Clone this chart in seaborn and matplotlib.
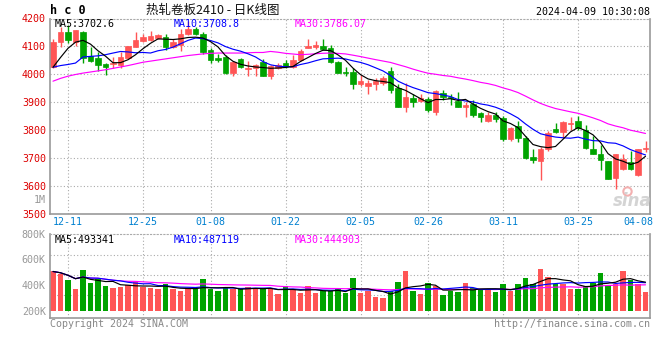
import numpy as np
import pandas as pd
import matplotlib
matplotlib.use("Agg")
import matplotlib.pyplot as plt
import seaborn as sns

# daily K data for hc0 (HRC 2410), 2023-12-07 .. 2024-04-09
opens = [4027, 4117, 4152, 4116, 4152, 4065, 4059, 4037, 4035, 4033,
         4057, 4099, 4120, 4122, 4131, 4134, 4096, 4105, 4146, 4164,
         4146, 4087, 4057, 4063, 4006, 4053, 4017, 4021, 4045, 3992,
         4021, 4041, 4027, 4051, 4093, 4099, 4101, 4093, 4045, 4009,
         4009, 3965, 3959, 3965, 3968, 4012, 3950, 3884, 3914, 3905,
         3912, 3866, 3932, 3920, 3905, 3881, 3894, 3860, 3831, 3855,
         3843, 3768, 3815, 3771, 3702, 3688, 3730, 3805, 3793, 3821,
         3833, 3801, 3733, 3714, 3690, 3628, 3658, 3684, 3640, 3731]
highs = [4125, 4170, 4176, 4160, 4155, 4099, 4081, 4041, 4063, 4081,
         4101, 4150, 4144, 4155, 4144, 4143, 4125, 4164, 4192, 4170,
         4150, 4093, 4072, 4069, 4047, 4057, 4049, 4037, 4053, 4033,
         4039, 4051, 4069, 4089, 4128, 4119, 4126, 4105, 4049, 4025,
         4023, 3998, 3980, 3986, 3994, 4025, 3964, 3968, 3930, 3930,
         3917, 3944, 3943, 3928, 3936, 3900, 3908, 3866, 3863, 3864,
         3849, 3812, 3833, 3777, 3730, 3738, 3795, 3825, 3833, 3846,
         3849, 3819, 3777, 3747, 3690, 3712, 3712, 3724, 3733, 3762]
lows = [4022, 4099, 4111, 4100, 4041, 4045, 4012, 3998, 4021, 4024,
        4053, 4099, 4117, 4119, 4128, 4087, 4093, 4084, 4140, 4140,
        4071, 4041, 4045, 4000, 3992, 4024, 3992, 3994, 3992, 3982,
        4019, 4021, 4024, 4049, 4093, 4089, 4087, 4041, 4003, 3992,
        3946, 3956, 3930, 3944, 3962, 3932, 3881, 3863, 3881, 3900,
        3866, 3855, 3908, 3890, 3881, 3845, 3845, 3827, 3828, 3827,
        3762, 3762, 3756, 3697, 3682, 3620, 3726, 3789, 3771, 3801,
        3801, 3733, 3712, 3655, 3623, 3587, 3655, 3655, 3634, 3721]
closes = [4117, 4152, 4122, 4158, 4059, 4049, 4033, 4025, 4040, 4061,
          4101, 4122, 4134, 4137, 4140, 4096, 4116, 4146, 4161, 4146,
          4081, 4051, 4051, 4004, 4045, 4027, 4021, 4033, 3994, 4031,
          4033, 4030, 4051, 4084, 4101, 4105, 4090, 4045, 4006, 4003,
          3965, 3974, 3968, 3974, 3988, 3944, 3884, 3920, 3900, 3914,
          3872, 3940, 3920, 3914, 3884, 3890, 3855, 3845, 3855, 3840,
          3768, 3807, 3771, 3700, 3692, 3730, 3789, 3792, 3829, 3825,
          3807, 3736, 3715, 3692, 3625, 3712, 3694, 3658, 3730, 3733]
volumes_k = [506, 486, 437, 372, 514, 416, 445, 393, 378, 385,
             398, 421, 385, 378, 372, 408, 372, 352, 367, 367,
             445, 367, 352, 378, 367, 378, 385, 367, 367, 380,
             329, 390, 367, 339, 390, 339, 352, 352, 367, 342,
             455, 339, 354, 308, 300, 354, 424, 509, 354, 329,
             416, 390, 321, 354, 347, 416, 378, 360, 360, 347,
             406, 354, 406, 455, 406, 522, 463, 406, 406, 372,
             372, 390, 419, 496, 398, 411, 506, 442, 411, 347]

# moving averages at the left edge (their windows start before the chart)
ma5_head = [4025, 4060, 4093, 4115]
ma10_head = [4025, 4031, 4035, 4040, 4062, 4064, 4066, 4070, 4076]
ma30_head = [3975, 3985, 3993, 3999, 4004, 4008, 4012, 4016, 4021, 4026,
             4031, 4037, 4043, 4047, 4051, 4055, 4059, 4063, 4067, 4070,
             4073, 4075, 4076, 4076, 4076, 4076, 4077, 4078, 4078]

tick_pos = [2, 12, 21, 31, 41, 50, 60, 70, 78]
tick_labels = ["12-11", "12-25", "01-08", "01-22", "02-05", "02-26", "03-11", "03-25", "04-08"]
price_ticks = [3500, 3600, 3700, 3800, 3900, 4000, 4100, 4200]
vol_ticks = [200000, 400000, 600000, 800000]
vol_tick_labels = ["200K", "400K", "600K", "800K"]

UP = "#ff5555"
DOWN = "#00a300"
GRID = "#aaaaaa"
EDGE = "#999999"
MONO = "DejaVu Sans Mono"

sns.set_theme(style="white")
plt.rcParams["font.family"] = [MONO, "Noto Sans CJK SC"]

df = pd.DataFrame({"open": opens, "high": highs, "low": lows,
                   "close": closes, "vol": np.array(volumes_k) * 1000})
df["idx"] = np.arange(len(df))
df["color"] = np.where(df["close"] >= df["open"], UP, DOWN)


def moving(s, n, head):
    m = s.rolling(n).mean()
    m.iloc[:n - 1] = head
    return m


df["ma5"] = moving(df["close"], 5, ma5_head)
df["ma10"] = moving(df["close"], 10, ma10_head)
df["ma30"] = moving(df["close"], 30, ma30_head)
df["vma5"] = df["vol"].rolling(5, min_periods=1).mean()
df["vma10"] = df["vol"].rolling(10, min_periods=1).mean()
df["vma30"] = df["vol"].rolling(30, min_periods=1).mean()

W, H = 660, 360


def px(x, y):
    return x / W, 1 - y / H


fig = plt.figure(figsize=(6.6, 3.6), dpi=100)
ax = fig.add_axes([50 / W, 1 - 213.5 / H, 600 / W, 195 / H])
axv = fig.add_axes([50 / W, 1 - 318 / H, 600 / W, 84.5 / H])

# price panel
ax.vlines(df["idx"], df["low"], df["high"], colors=df["color"], lw=1)
body = np.maximum((df["close"] - df["open"]).abs(), 2.5)
ax.bar(df["idx"], body, bottom=np.minimum(df["open"], df["close"]), width=0.74,
       color=df["color"], edgecolor=df["color"], lw=0.5)
sns.lineplot(data=df, x="idx", y="ma30", ax=ax, color="#ff00ff", lw=0.85)
sns.lineplot(data=df, x="idx", y="ma10", ax=ax, color="#0000ff", lw=0.85)
sns.lineplot(data=df, x="idx", y="ma5", ax=ax, color="black", lw=0.85)
ax.set_xlim(-0.4, 79.6)
ax.set_ylim(3500, 4200)
ax.set_yticks(price_ticks)
ax.set_yticklabels([str(p) for p in price_ticks], color="#dd0000", fontsize=7.2)
ax.set_xticks(tick_pos)
ax.set_xticklabels(tick_labels, color="#0080d0", fontsize=7.2)
ax.tick_params(axis="both", length=0, pad=3)
ax.tick_params(axis="x", pad=2.5)
for p in price_ticks[1:-1]:
    ax.axhline(p, color=GRID, lw=0.8, ls=(0, (1, 2)), zorder=0)
for t in tick_pos[:-1]:
    ax.axvline(t, color=GRID, lw=0.8, ls=(0, (1, 2)), zorder=0)
ax.set_xlabel("")
ax.set_ylabel("")

# volume panel
axv.bar(df["idx"], df["vol"] - 200000, bottom=200000, width=0.74, color=df["color"], lw=0)
sns.lineplot(data=df, x="idx", y="vma30", ax=axv, color="#ff00ff", lw=0.85)
sns.lineplot(data=df, x="idx", y="vma10", ax=axv, color="#0000ff", lw=0.85)
sns.lineplot(data=df, x="idx", y="vma5", ax=axv, color="black", lw=0.85)
axv.set_xlim(-0.4, 79.6)
axv.set_ylim(145800, 800000)
axv.set_yticks(vol_ticks)
axv.set_yticklabels(vol_tick_labels, color="#999999", fontsize=7.2)
axv.set_xticks([])
axv.tick_params(axis="both", length=0, pad=3)
for v in [325000, 480000, 630000]:
    axv.axhline(v, color=GRID, lw=0.8, ls=(0, (1, 2)), zorder=0)
for t in tick_pos[:-1]:
    axv.axvline(t, color=GRID, lw=0.8, ls=(0, (1, 2)), zorder=0)
axv.set_xlabel("")
axv.set_ylabel("")

for a in (ax, axv):
    for side in ("left", "right", "bottom"):
        a.spines[side].set_color(EDGE)
        a.spines[side].set_linewidth(1.2)
    a.spines["top"].set_color(GRID)
    a.spines["top"].set_linestyle((0, (1, 2)))
    a.spines["top"].set_linewidth(0.8)

# texts
fig.text(*px(50, 11), "h c 0", fontsize=8.5, weight="bold", color="black", va="center", family=MONO)
fig.text(*px(213, 10), "热轧卷板2410 - 日K线图", fontsize=9, color="#111111",
         ha="center", va="center", family=["Noto Sans CJK SC", MONO])
fig.text(*px(650, 12), "2024-04-09 10:30:08", fontsize=7.2, color="black", ha="right", va="center")
fig.text(*px(55, 24), "MA5:3702.6", fontsize=7.2, color="black", va="center")
fig.text(*px(174, 24), "MA10:3708.8", fontsize=7.2, color="#0000ff", va="center")
fig.text(*px(295, 24), "MA30:3786.07", fontsize=7.2, color="#ff00ff", va="center")
fig.text(*px(55, 240), "MA5:493341", fontsize=7.2, color="black", va="center")
fig.text(*px(174, 240), "MA10:487119", fontsize=7.2, color="#0000ff", va="center")
fig.text(*px(295, 240), "MA30:444903", fontsize=7.2, color="#ff00ff", va="center")
fig.text(*px(46, 200), "1M", fontsize=7.2, color="#999999", ha="right", va="center")
fig.text(*px(50, 324), "Copyright 2024 SINA.COM", fontsize=7.2, color="#888888", va="center")
fig.text(*px(650, 324), "http://finance.sina.com.cn", fontsize=7.2, color="#888888", ha="right", va="center")
fig.text(*px(632, 201), "sina", fontsize=12, style="italic", weight="bold", color="#d4d4d4",
         ha="center", va="center", family="DejaVu Sans")
ax.plot([0.962], [0.115], transform=ax.transAxes, marker="o", ms=6, mfc="none", mec="#f3b0b0", mew=1.5)

fig.savefig("out.png", dpi=100)
